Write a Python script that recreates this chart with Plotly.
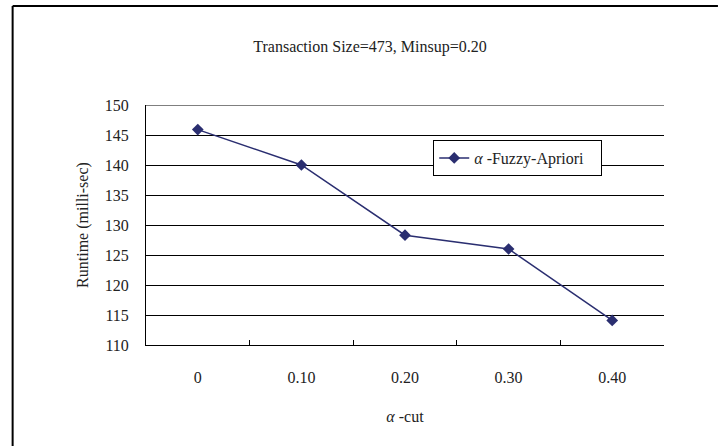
import plotly.graph_objects as go

categories = ["0", "0.10", "0.20", "0.30", "0.40"]
runtime = [145.9, 140.0, 128.3, 126.0, 114.1]
y_ticks = [110, 115, 120, 125, 130, 135, 140, 145, 150]
series_name = "<i>α</i> -Fuzzy-Apriori\u00a0\u00a0\u00a0"
title_text = "Transaction Size=473, Minsup=0.20"
x_title = "<i>α</i> -cut"
y_title = "Runtime (milli-sec)"

W, H = 718, 446
L, R, T, B = 145.5, 54, 105, 101
pw, ph = W - L - R, H - T - B

def px_x(x):
    return (x - L) / pw

def px_y(y):
    return (H - B - y) / ph

FONT = "Liberation Serif"
NAVY = "#2a2e70"

fig = go.Figure()
fig.add_trace(go.Scatter(
    x=categories, y=runtime, mode="lines+markers", name=series_name,
    line=dict(color=NAVY, width=1.5),
    marker=dict(symbol="diamond", size=9, color=NAVY),
    showlegend=True,
))

fig.update_layout(
    width=W, height=H,
    margin=dict(l=L, r=R, t=T, b=B, autoexpand=False),
    paper_bgcolor="white", plot_bgcolor="white",
    font=dict(family=FONT, size=16, color="#222"),
    title=dict(text=title_text, xref="container", x=370 / W, xanchor="center",
               yref="container", y=1 - 46 / H, yanchor="middle",
               font=dict(size=16, family=FONT, color="#222")),
    showlegend=True,
    legend=dict(x=px_x(433), y=px_y(140), xanchor="left", yanchor="top",
                bordercolor="black", borderwidth=1, bgcolor="white",
                font=dict(size=16, family=FONT, color="#222"),
                tracegroupgap=0),
    xaxis=dict(type="category", range=[-0.5, 4.5], showgrid=False,
               showline=True, linecolor="black", linewidth=1,
               ticks="inside", ticklen=5, tickcolor="black", tickson="boundaries",
               ticklabelstandoff=18, tickfont=dict(size=16),
               title=dict(text=x_title, standoff=25, font=dict(size=16)),
               zeroline=False, fixedrange=True),
    yaxis=dict(range=[110, 150], tickvals=y_ticks, showgrid=True, gridcolor="black", gridwidth=1,
               showline=True, linecolor="black", linewidth=1, ticks="",
               ticklabelstandoff=13, tickfont=dict(size=16),
               title=dict(text=y_title, standoff=12, font=dict(size=16)),
               zeroline=False, fixedrange=True),
)

# top gridline at the upper range limit
fig.add_shape(type="line", xref="paper", yref="y", x0=0, x1=1, y0=y_ticks[-1], y1=y_ticks[-1],
              line=dict(color="black", width=1), layer="below")

# outer frame (left and top edges)
fig.add_shape(type="line", xref="paper", yref="paper",
              x0=px_x(12), x1=px_x(12), y0=px_y(6), y1=px_y(446), line=dict(color="black", width=2))
fig.add_shape(type="line", xref="paper", yref="paper",
              x0=px_x(12), x1=px_x(718), y0=px_y(6), y1=px_y(6), line=dict(color="black", width=2))

fig.write_html("out.html", config={"displayModeBar": False},
               post_script="document.body.style.margin='0';document.body.style.overflow='hidden';")
